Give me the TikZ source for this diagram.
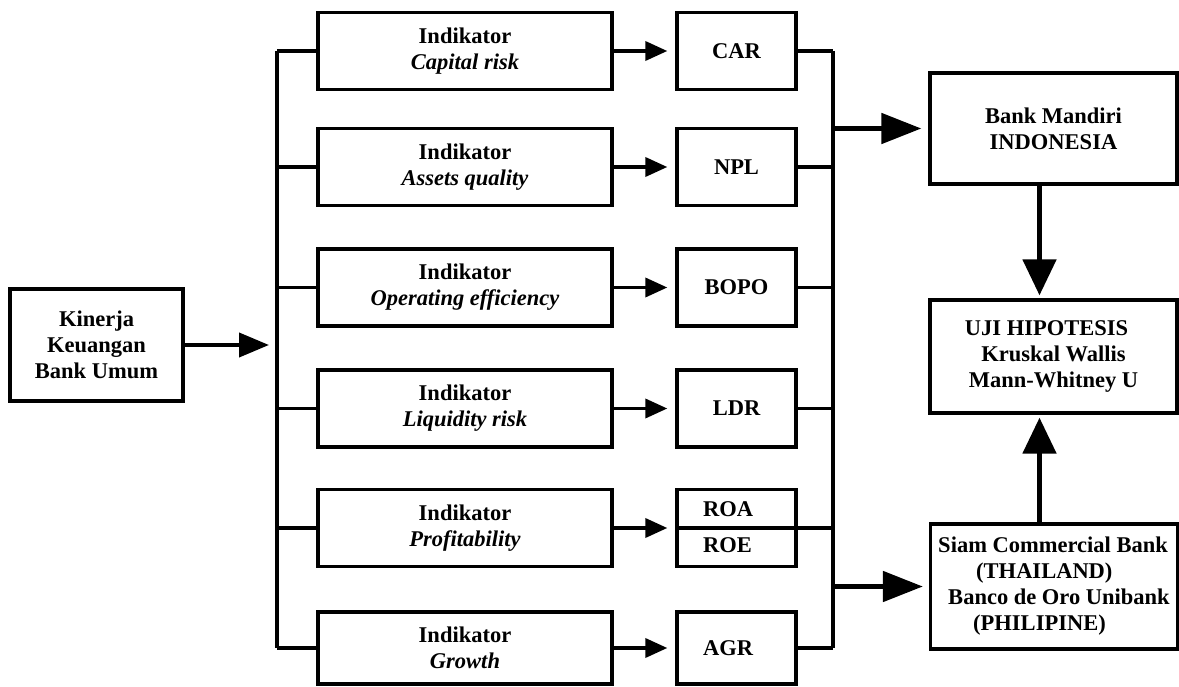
\documentclass[tikz,border=0pt]{standalone}
\usepackage{fontspec}
\setmainfont{Liberation Serif}
\usetikzlibrary{arrows.meta}
\begin{document}
\begin{tikzpicture}[x=1pt,y=-1pt,
  txt/.style={inner sep=0pt, font=\fontsize{22.5}{26}\selectfont\bfseries},
  box/.style={txt, draw, line width=3.3pt, align=center},
  ind/.style={box, minimum width=294pt, minimum height=77pt},
  sbox/.style={box, minimum width=119pt, minimum height=77pt},
  rbox/.style={box, minimum width=247pt},
  conn/.style={line width=3.3pt},
  arr/.style={line width=3.6pt, -{Triangle[length=22pt,width=19pt]}},
  karr/.style={line width=4pt, -{Triangle[length=30pt,width=24pt]}},
  bigarr/.style={line width=5pt, -{Triangle[length=40pt,width=30pt]}},
  varr/.style={line width=5pt, -{Triangle[length=36pt,width=33pt]}}
]
\useasboundingbox (0,0) rectangle (1179,687);

% left box
\node[box, minimum width=173pt, minimum height=112pt] (k) at (96.5,345) {Kinerja\\Keuangan\\Bank Umum};

% indicator boxes
\node[ind] (i1) at (465,51)    {Indikator\\\textit{Capital risk}};
\node[ind] (i2) at (465,167)   {Indikator\\\textit{Assets quality}};
\node[ind] (i3) at (465,287.5) {Indikator\\\textit{Operating efficiency}};
\node[ind] (i4) at (465,408.5) {Indikator\\\textit{Liquidity risk}};
\node[ind] (i5) at (465,528)   {Indikator\\\textit{Profitability}};
\node[ind, minimum height=72pt] (i6) at (465,648) {Indikator\\\textit{Growth}};

% ratio boxes
\node[sbox] (c1) at (736.5,51)    {CAR};
\node[sbox] (c2) at (736.5,167)   {NPL};
\node[sbox] (c3) at (736.5,287.5) {BOPO};
\node[sbox] (c4) at (736.5,408.5) {LDR};
\node[sbox] (c5) at (736.5,528)   {};
\node[txt, anchor=west] (roa) at (703,509) {ROA};
\node[txt, anchor=west] (roe) at (703,545) {ROE};
\node[sbox, minimum height=72pt] (c6) at (736.5,648) {AGR\kern17pt};

% right boxes
\node[rbox, minimum height=111pt] (bm) at (1053.5,128.5) {Bank Mandiri\\INDONESIA};
\node[rbox, minimum height=113pt] (uji) at (1053.5,356.5) {UJI HIPOTESIS\kern14pt\\Kruskal Wallis\\Mann-Whitney U};
\node[rbox, minimum height=125pt, align=left] (siam) at (1054,586.5)
  {Siam Commercial Bank\\\hspace*{38pt}(THAILAND)\\\hspace*{10pt}Banco de Oro Unibank\\\hspace*{35pt}(PHILIPINE)};

% buses
\coordinate (lbus) at (277,0);
\coordinate (rbus) at (833,0);
\coordinate (vx) at (1039.5,0);

\draw[karr, shorten >=8pt] (k.east) -- (lbus |- k.east);
\draw[conn] (lbus |- i1.west) -- (lbus |- i6.west);
\foreach \n in {1,...,6} {
  \draw[conn] (lbus |- i\n.west) -- (i\n.west);
  \draw[arr, shorten >=8pt] (i\n.east) -- (c\n.west);
}
\foreach \n in {1,2,3,4,6} {
  \draw[conn] (c\n.east) -- (rbus |- c\n.east);
}
\draw[conn] (c5.west) -- (rbus |- c5.east);
\draw[conn] (rbus |- c1.east) -- (rbus |- c6.east);

\draw[bigarr, shorten >=7pt] (rbus |- bm.west) -- (bm.west);
\draw[bigarr, shorten >=6pt] (rbus |- siam.west) -- (siam.west);
\draw[varr, shorten >=3pt] (vx |- bm.south) -- (vx |- uji.north);
\draw[varr, shorten >=3pt] (vx |- siam.north) -- (vx |- uji.south);
\end{tikzpicture}
\end{document}
